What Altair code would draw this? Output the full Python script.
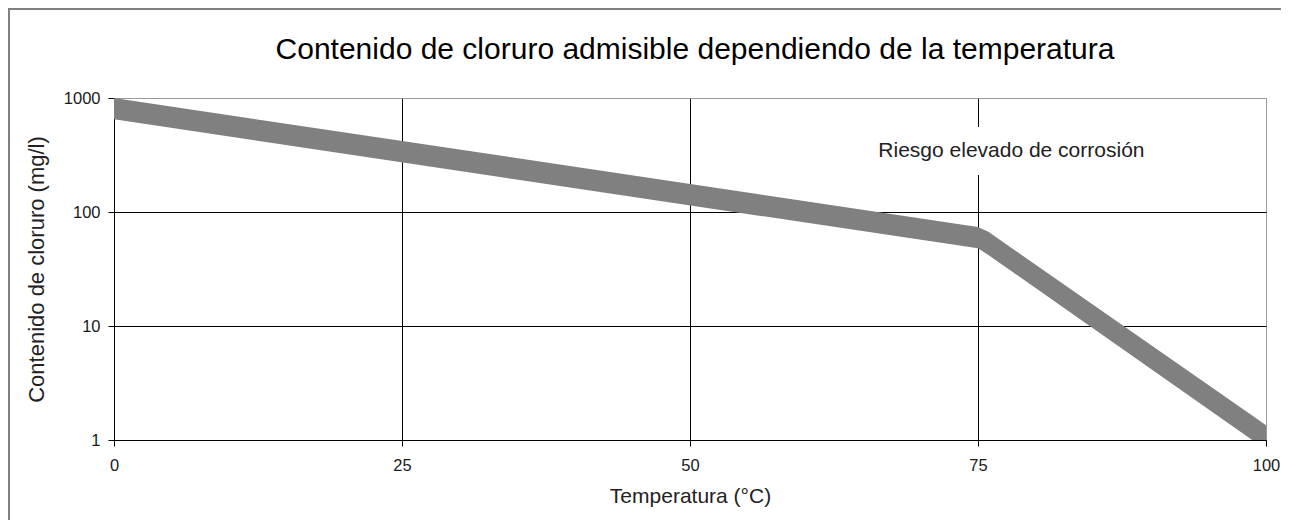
import altair as alt
import pandas as pd

# Band of admissible chloride content (upper and lower edges of the grey band)
temp = [0, 75, 75.9, 98.8, 100]
upper = [1000, 74, 67, 1.64, 1.35]
lower = [650, 48, 42, 1, 1]

x_ticks = [0, 25, 50, 75, 100]
y_ticks = [1, 10, 100, 1000]

note_text = ["Riesgo elevado de corrosión"]
note_x = [77.9]
note_y = [343]
box_x = [66]
box_x2 = [90]
box_y = [211]
box_y2 = [557]

FONT = "Liberation Sans"

band_df = pd.DataFrame({"t": temp, "hi": upper, "lo": lower})
note_df = pd.DataFrame({"label": note_text, "x": note_x, "y": note_y,
                        "bx": box_x, "bx2": box_x2, "by": box_y, "by2": box_y2})
frame_df = pd.DataFrame({"k": [0]})

xs = alt.Scale(domain=[0, 100], nice=False, zero=False)
ys = alt.Scale(type="log", domain=[1, 1000], nice=False)

x_axis = alt.Axis(
    title="Temperatura (°C)", values=x_ticks, format="d",
    grid=True,
    gridColor=alt.condition("datum.value == 100", alt.value("#9a9a9a"), alt.value("#000000")),
    gridWidth=1, domainColor="#000000", tickColor="#000000", tickSize=6,
    labelFont=FONT, labelFontSize=16.5, labelColor="#1a1a1a", labelPadding=11,
    titleFont=FONT, titleFontSize=21, titleFontWeight="normal", titleColor="#222222",
    titlePadding=12, labelFlush=False,
)
y_axis = alt.Axis(
    title="Contenido de cloruro (mg/l)", values=y_ticks, format="d",
    grid=True,
    gridColor=alt.condition("datum.value == 1000", alt.value("#9a9a9a"), alt.value("#000000")),
    gridWidth=1, domainColor="#000000", tickColor="#000000", tickSize=6,
    labelFont=FONT, labelFontSize=16.5, labelColor="#1a1a1a", labelPadding=8,
    titleFont=FONT, titleFontSize=22, titleFontWeight="normal", titleColor="#222222",
    titlePadding=15, labelFlush=False,
)

frame = alt.Chart(frame_df).mark_rect(
    fill="transparent", stroke="#808080", strokeWidth=2, clip=False
).encode(
    x=alt.value(-105), x2=alt.value(1400), y=alt.value(-89), y2=alt.value(700)
)

band = alt.Chart(band_df).mark_area(color="#808080", opacity=1).encode(
    x=alt.X("t:Q", scale=xs, axis=x_axis),
    y=alt.Y("hi:Q", scale=ys, axis=y_axis),
    y2="lo:Q",
)

box = alt.Chart(note_df).mark_rect(color="white").encode(
    x=alt.X("bx:Q", scale=xs), x2="bx2:Q",
    y=alt.Y("by:Q", scale=ys), y2="by2:Q",
)

note = alt.Chart(note_df).mark_text(
    font=FONT, fontSize=21, color="#222222", align="center", baseline="middle"
).encode(
    x=alt.X("x:Q", scale=xs), y=alt.Y("y:Q", scale=ys), text="label:N"
)

chart = alt.layer(frame, box, note, band).properties(
    width=1152, height=342,
    title=alt.TitleParams(
        "Contenido de cloruro admisible dependiendo de la temperatura",
        font=FONT, fontSize=30, fontWeight="normal", color="#000000",
        anchor="middle", frame="group", baseline="alphabetic", offset=-81, dx=5,
    ),
    autosize=alt.AutoSizeParams(type="none"),
    padding={"left": 106, "top": 90, "right": 15, "bottom": 80},
).configure_view(stroke="#9a9a9a", strokeWidth=1).configure(background="white")

chart.save("out.html", embed_options={"renderer": "svg", "actions": False})
